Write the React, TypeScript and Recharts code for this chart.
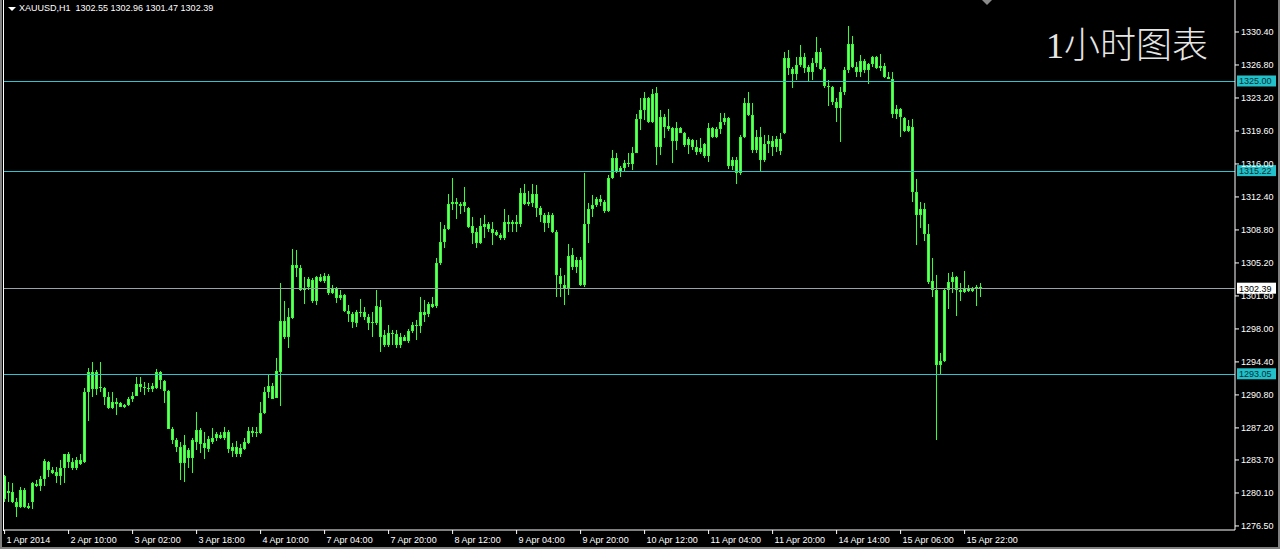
import React from 'react';
import { ComposedChart, Bar, XAxis, YAxis, ReferenceLine } from 'recharts';

// XAUUSD H1 candles, [open, high, low, close]
const BARS_APR01_03 = [
  [1281.9, 1282.1, 1279.1, 1279.4], [1280.1, 1281.3, 1279.1, 1280.3], [1280.2, 1281.2, 1279.0, 1279.1],
  [1279.1, 1279.6, 1277.5, 1278.6], [1278.6, 1280.8, 1278.5, 1280.4], [1280.4, 1280.6, 1278.4, 1278.6],
  [1278.7, 1279.0, 1278.3, 1278.5], [1279.1, 1281.3, 1278.3, 1281.2], [1281.1, 1281.5, 1280.7, 1280.9],
  [1280.9, 1282.0, 1280.4, 1281.6], [1281.6, 1283.8, 1280.8, 1283.6], [1283.5, 1283.6, 1281.9, 1282.6],
  [1282.6, 1282.9, 1282.1, 1282.3], [1282.4, 1282.9, 1281.2, 1281.9], [1281.9, 1283.7, 1281.0, 1282.8],
  [1282.8, 1284.4, 1281.2, 1284.3], [1284.3, 1284.6, 1282.9, 1283.5], [1283.5, 1283.9, 1282.6, 1282.8],
  [1282.8, 1284.0, 1282.6, 1283.7], [1283.7, 1284.4, 1283.2, 1283.3], [1283.5, 1291.6, 1283.4, 1291.1],
  [1291.1, 1293.7, 1287.9, 1293.3], [1293.3, 1294.4, 1290.6, 1291.4], [1291.4, 1293.5, 1290.8, 1293.3],
  [1291.7, 1294.4, 1291.1, 1291.5], [1291.5, 1291.7, 1289.7, 1290.6], [1290.6, 1291.1, 1289.2, 1289.4],
  [1289.4, 1291.1, 1289.2, 1290.0], [1290.0, 1290.5, 1288.6, 1289.8], [1289.9, 1290.0, 1289.4, 1289.5],
  [1289.5, 1289.8, 1289.4, 1289.7], [1289.7, 1290.6, 1289.6, 1290.4], [1290.3, 1291.1, 1290.0, 1290.7],
  [1290.7, 1292.7, 1290.6, 1292.0], [1292.0, 1292.7, 1291.1, 1291.7], [1291.7, 1292.2, 1290.8, 1291.6],
  [1291.6, 1292.1, 1291.1, 1291.4], [1291.4, 1292.1, 1291.1, 1291.8], [1291.6, 1293.6, 1291.4, 1293.3],
  [1293.3, 1293.4, 1291.4, 1292.4], [1292.3, 1292.4, 1289.9, 1291.2], [1291.2, 1291.3, 1287.0, 1287.1],
  [1287.1, 1287.3, 1285.4, 1285.9], [1285.9, 1286.1, 1284.6, 1285.1], [1285.1, 1285.7, 1281.5, 1283.4],
  [1283.4, 1286.4, 1281.3, 1285.3], [1284.8, 1285.0, 1282.8, 1283.9], [1283.9, 1286.1, 1282.3, 1285.9],
];

const BARS_APR03_07 = [
  [1285.7, 1288.9, 1284.8, 1287.0], [1287.0, 1287.2, 1284.5, 1285.4], [1285.5, 1286.8, 1283.9, 1285.0],
  [1284.9, 1286.3, 1284.6, 1286.0], [1285.7, 1287.2, 1285.4, 1286.1], [1286.1, 1286.7, 1285.7, 1286.5],
  [1286.4, 1286.7, 1285.9, 1286.1], [1286.1, 1287.3, 1285.9, 1286.8], [1286.8, 1287.0, 1284.5, 1284.9],
  [1285.1, 1285.5, 1284.0, 1284.7], [1284.3, 1285.8, 1284.0, 1285.1], [1285.0, 1285.4, 1284.0, 1284.4],
  [1284.9, 1286.1, 1284.8, 1285.7], [1285.6, 1287.3, 1285.4, 1286.9], [1286.9, 1287.3, 1286.2, 1286.6],
  [1286.6, 1287.3, 1286.2, 1286.7], [1286.6, 1290.0, 1286.5, 1288.8], [1288.8, 1291.7, 1288.7, 1291.1],
  [1291.1, 1293.0, 1290.5, 1291.8], [1291.8, 1292.1, 1290.3, 1290.4], [1290.5, 1294.8, 1290.4, 1293.4],
  [1293.3, 1303.0, 1289.6, 1298.9], [1298.9, 1301.0, 1296.8, 1297.1], [1297.1, 1300.3, 1295.9, 1299.3],
  [1299.2, 1306.7, 1299.1, 1305.0], [1305.0, 1306.6, 1303.7, 1304.7], [1304.7, 1305.0, 1302.2, 1302.3],
  [1302.3, 1303.7, 1300.8, 1302.5], [1302.6, 1303.7, 1302.3, 1303.4], [1303.3, 1303.6, 1300.9, 1301.1],
  [1301.1, 1303.8, 1300.6, 1303.7], [1303.7, 1304.0, 1303.1, 1303.2], [1303.2, 1304.1, 1303.0, 1303.8],
  [1303.8, 1304.0, 1301.7, 1301.9], [1301.9, 1302.8, 1301.8, 1302.5], [1302.5, 1302.6, 1300.8, 1301.4],
  [1301.4, 1302.3, 1301.2, 1301.7], [1301.7, 1301.8, 1299.8, 1300.0], [1300.0, 1300.6, 1298.7, 1299.6],
  [1299.6, 1299.9, 1298.1, 1298.8], [1298.7, 1300.1, 1298.2, 1299.9], [1299.9, 1301.3, 1299.3, 1299.8],
  [1299.8, 1300.4, 1299.0, 1299.3], [1299.3, 1299.6, 1297.9, 1298.7], [1298.7, 1299.8, 1297.1, 1298.8],
  [1298.7, 1302.2, 1298.4, 1300.5], [1300.4, 1301.2, 1295.5, 1297.1], [1297.3, 1297.9, 1296.0, 1296.3],
  [1296.3, 1298.4, 1296.0, 1297.6], [1297.6, 1297.9, 1296.3, 1297.4],
];

const BARS_APR08_09 = [
  [1297.4, 1297.9, 1295.9, 1296.2], [1296.2, 1297.6, 1296.0, 1297.1], [1297.1, 1297.3, 1296.6, 1296.7],
  [1296.7, 1298.0, 1296.5, 1297.8], [1297.8, 1298.8, 1297.6, 1298.4], [1298.4, 1299.0, 1296.8, 1298.3],
  [1298.3, 1301.5, 1297.6, 1299.9], [1299.9, 1301.2, 1298.8, 1299.5], [1299.6, 1300.9, 1299.3, 1300.7],
  [1300.7, 1301.5, 1300.3, 1300.4], [1300.5, 1305.7, 1300.2, 1305.2], [1305.2, 1309.7, 1305.0, 1307.5],
  [1307.5, 1309.3, 1306.8, 1308.9], [1308.9, 1312.7, 1308.8, 1311.6], [1311.6, 1314.5, 1311.0, 1311.8],
  [1311.8, 1312.3, 1310.0, 1311.6], [1311.6, 1311.9, 1310.6, 1311.4], [1311.4, 1313.5, 1310.8, 1311.8],
  [1311.2, 1311.3, 1309.0, 1309.1], [1309.2, 1310.2, 1307.2, 1308.5], [1308.6, 1309.0, 1306.8, 1307.4],
  [1307.4, 1310.1, 1307.3, 1309.2], [1309.1, 1310.4, 1307.9, 1309.4], [1309.4, 1309.7, 1308.6, 1308.9],
  [1308.9, 1309.7, 1307.2, 1308.5], [1308.6, 1308.8, 1308.1, 1308.3], [1308.3, 1308.5, 1307.7, 1307.9],
  [1307.9, 1311.1, 1307.7, 1309.7], [1309.7, 1310.4, 1308.5, 1309.4], [1309.4, 1309.9, 1308.6, 1309.7],
  [1309.7, 1310.4, 1308.5, 1309.5], [1309.5, 1313.4, 1309.1, 1312.8], [1312.8, 1313.8, 1311.5, 1311.6],
  [1311.6, 1313.0, 1311.4, 1311.8], [1311.7, 1313.8, 1311.3, 1312.7], [1312.7, 1313.7, 1310.2, 1311.2],
  [1311.2, 1311.4, 1309.7, 1310.4], [1310.4, 1310.7, 1308.6, 1309.6], [1309.6, 1310.8, 1309.1, 1310.4],
  [1310.4, 1310.7, 1308.5, 1308.6], [1308.6, 1308.8, 1301.5, 1303.9], [1303.8, 1304.7, 1301.5, 1302.9],
  [1302.8, 1303.9, 1300.6, 1302.4], [1302.5, 1307.3, 1301.7, 1306.0], [1306.1, 1306.8, 1304.4, 1304.8],
  [1304.8, 1305.9, 1304.2, 1305.5], [1305.5, 1305.9, 1302.7, 1302.8], [1302.8, 1315.0, 1302.6, 1309.5],
];

const BARS_APR10_11 = [
  [1309.5, 1311.7, 1307.3, 1311.1], [1311.1, 1312.6, 1310.2, 1311.5], [1311.5, 1312.4, 1311.3, 1312.2],
  [1312.2, 1312.6, 1311.4, 1311.8], [1311.8, 1312.1, 1310.7, 1310.9], [1310.9, 1314.8, 1310.8, 1314.5],
  [1314.5, 1317.5, 1314.3, 1316.7], [1316.7, 1317.2, 1315.0, 1315.1], [1315.1, 1315.8, 1314.6, 1315.6],
  [1315.6, 1316.4, 1315.1, 1316.1], [1316.1, 1317.2, 1315.7, 1316.0], [1316.0, 1317.9, 1315.4, 1317.2],
  [1317.2, 1321.4, 1317.1, 1320.9], [1320.9, 1323.2, 1319.7, 1321.9], [1321.9, 1323.9, 1320.8, 1323.2],
  [1323.2, 1323.3, 1320.5, 1320.6], [1320.6, 1324.2, 1320.5, 1323.6], [1323.7, 1324.4, 1315.9, 1317.9],
  [1317.9, 1321.9, 1317.0, 1321.1], [1321.1, 1321.5, 1318.9, 1320.0], [1320.1, 1322.0, 1319.6, 1319.8],
  [1319.9, 1320.0, 1316.1, 1318.5], [1318.5, 1320.6, 1317.5, 1319.9], [1319.9, 1320.0, 1319.3, 1319.4],
  [1319.4, 1319.5, 1317.9, 1318.1], [1318.1, 1318.9, 1317.0, 1318.7], [1318.6, 1318.7, 1317.5, 1317.9],
  [1317.9, 1318.6, 1317.0, 1317.3], [1317.3, 1318.8, 1317.0, 1317.7], [1318.2, 1318.3, 1316.7, 1316.9],
  [1316.9, 1320.5, 1316.2, 1319.9], [1319.9, 1320.0, 1318.8, 1318.9], [1318.9, 1320.0, 1318.8, 1319.8],
  [1319.8, 1321.6, 1319.3, 1320.6], [1320.6, 1321.6, 1320.3, 1321.0], [1321.0, 1321.1, 1315.4, 1315.8],
  [1315.8, 1316.8, 1315.4, 1316.4], [1316.4, 1316.8, 1313.9, 1315.0], [1315.0, 1319.2, 1314.8, 1318.9],
  [1318.9, 1323.2, 1318.8, 1322.7], [1322.7, 1323.8, 1321.2, 1321.3], [1321.3, 1322.7, 1317.2, 1317.5],
  [1317.5, 1319.7, 1317.2, 1318.9], [1318.9, 1320.0, 1315.1, 1316.4], [1316.4, 1319.2, 1316.2, 1318.2],
  [1318.2, 1319.2, 1317.2, 1318.5], [1318.5, 1319.0, 1316.8, 1317.9], [1317.9, 1319.0, 1317.2, 1318.7],
  [1318.7, 1319.4, 1317.0, 1317.4],
];

const BARS_APR11_16 = [
  [1319.4, 1328.2, 1319.2, 1327.6], [1327.6, 1328.4, 1325.7, 1326.5], [1326.4, 1326.6, 1324.3, 1325.8],
  [1325.8, 1327.7, 1325.2, 1326.8], [1326.8, 1329.0, 1326.6, 1327.7], [1327.7, 1328.1, 1325.9, 1326.5],
  [1326.6, 1326.8, 1325.0, 1326.0], [1326.0, 1327.6, 1325.2, 1327.0], [1327.0, 1329.9, 1326.6, 1328.2],
  [1328.2, 1328.7, 1326.3, 1326.4], [1326.4, 1326.6, 1324.3, 1324.5], [1324.5, 1325.2, 1322.4, 1324.4],
  [1324.4, 1324.5, 1322.4, 1322.8], [1322.8, 1323.2, 1320.6, 1322.1], [1322.1, 1324.4, 1318.4, 1323.9],
  [1323.8, 1326.6, 1323.5, 1326.3], [1326.3, 1331.1, 1326.0, 1329.1], [1329.1, 1330.0, 1326.5, 1326.6],
  [1326.6, 1327.1, 1325.5, 1326.0], [1326.0, 1327.9, 1325.5, 1327.2], [1327.2, 1327.5, 1326.0, 1326.2],
  [1326.2, 1327.0, 1324.7, 1326.9], [1326.9, 1327.8, 1326.6, 1327.7], [1327.7, 1327.8, 1326.4, 1326.5],
  [1326.5, 1328.0, 1326.1, 1326.7], [1326.7, 1327.0, 1325.4, 1325.5], [1325.5, 1326.0, 1325.2, 1325.3],
  [1325.3, 1326.0, 1321.0, 1321.5], [1321.5, 1322.4, 1320.9, 1322.0], [1322.0, 1322.1, 1318.9, 1321.1],
  [1321.0, 1321.1, 1319.5, 1319.6], [1319.6, 1320.8, 1319.5, 1320.1], [1320.0, 1320.9, 1311.8, 1312.9],
  [1312.9, 1314.4, 1307.2, 1310.4], [1310.4, 1311.9, 1309.1, 1311.1], [1311.1, 1311.7, 1307.6, 1308.4],
  [1308.4, 1309.5, 1303.0, 1303.1], [1303.2, 1305.7, 1301.4, 1302.3], [1302.3, 1303.9, 1285.9, 1294.1],
  [1294.1, 1295.4, 1293.0, 1294.5], [1294.5, 1302.5, 1294.4, 1302.3], [1302.3, 1304.1, 1300.2, 1303.1],
  [1303.1, 1304.2, 1301.9, 1303.7], [1303.7, 1303.8, 1299.4, 1302.3], [1302.3, 1303.0, 1301.0, 1302.0],
  [1302.0, 1304.3, 1301.9, 1302.5], [1302.5, 1302.8, 1302.0, 1302.1], [1302.1, 1302.6, 1302.0, 1302.4],
  [1302.4, 1302.8, 1300.5, 1302.6], [1302.55, 1302.96, 1301.47, 1302.39],
];

const TIME_TICKS = [0, 16, 32, 48, 64, 80, 96, 112, 128, 144, 160, 176, 192, 208, 224, 240];
const TIME_LABELS = [
  '1 Apr 2014', '2 Apr 10:00', '3 Apr 02:00', '3 Apr 18:00', '4 Apr 10:00', '7 Apr 04:00',
  '7 Apr 20:00', '8 Apr 12:00', '9 Apr 04:00', '9 Apr 20:00', '10 Apr 12:00', '11 Apr 04:00',
  '11 Apr 20:00', '14 Apr 14:00', '15 Apr 06:00', '15 Apr 22:00',
];
const PRICE_TICKS = [
  1330.4, 1326.8, 1323.2, 1319.6, 1316.0, 1312.4, 1308.8, 1305.2,
  1301.6, 1298.0, 1294.4, 1290.8, 1287.2, 1283.7, 1280.1, 1276.5,
];
const LEVELS = [1325.0, 1315.22, 1293.05];
const BID = 1302.39;
const LAST = BARS_APR11_16[BARS_APR11_16.length - 1];

const candles = [...BARS_APR01_03, ...BARS_APR03_07, ...BARS_APR08_09, ...BARS_APR10_11, ...BARS_APR11_16]
  .map(([o, h, l, c], i) => ({ i, o, h, l, c, range: [l, h] }));

const GREEN = '#33ff33';
const CYAN = '#2ec3cf';

const Candle = (props: any) => {
  const { x, y, width, height, payload } = props;
  if (x == null || !payload) return null;
  const top = Math.min(y, y + height);
  const span = Math.abs(height);
  const k = span / (payload.h - payload.l || 1);
  const bTop = top + (payload.h - Math.max(payload.o, payload.c)) * k;
  const bBot = top + (payload.h - Math.min(payload.o, payload.c)) * k;
  const cx = Math.round(x + width / 2 - 0.5);
  const by = Math.round(bTop);
  const bh = Math.max(1, Math.round(bBot) - by);
  return (
    <g shapeRendering="crispEdges">
      <rect x={cx} y={Math.round(top)} width={1} height={Math.max(1, Math.round(span))} fill={GREEN} />
      <rect x={cx - 1} y={by} width={3} height={bh} fill={GREEN} />
      {bh > 2 && <rect x={cx} y={by + 1} width={1} height={bh - 2} fill="#70ff70" />}
    </g>
  );
};

const TimeTick = (props: any) => {
  const { x, y, payload } = props;
  const label = TIME_LABELS[TIME_TICKS.indexOf(payload.value)];
  return (
    <text x={x + 2} y={y} dy="0.71em" fill="#fff" fontSize={9} textAnchor="start">
      {label}
    </text>
  );
};

const priceBox = (value: number, fill: string, color: string) => (props: any) => {
  const { viewBox } = props;
  if (!viewBox) return null;
  const bx = viewBox.x + viewBox.width + 2;
  return (
    <g>
      <rect x={bx} y={viewBox.y - 6} width={39} height={11} fill={fill} />
      <text x={bx + 2} y={viewBox.y} dy="0.33em" fontSize={9} fill={color}>
        {value.toFixed(2)}
      </text>
    </g>
  );
};

export default function App() {
  return (
    <div
      style={{
        position: 'fixed', left: 0, top: 0, width: 1280, height: 549, background: '#000',
        overflow: 'hidden', fontFamily: '"Liberation Sans", Arial, sans-serif',
      }}
    >
      <ComposedChart
        width={1280}
        height={549}
        data={candles}
        margin={{ top: 0, right: 0, bottom: 0, left: 3 }}
        style={{ fontFamily: '"Liberation Sans", Arial, sans-serif' }}
      >
        <XAxis
          dataKey="i"
          type="number"
          domain={[-0.4, 307.6]}
          allowDataOverflow
          ticks={TIME_TICKS}
          interval={0}
          height={19}
          stroke="#fff"
          tickSize={4}
          tickMargin={3}
          tick={<TimeTick />}
        />
        <YAxis
          orientation="right"
          type="number"
          domain={[1276.06, 1333.89]}
          allowDataOverflow
          ticks={PRICE_TICKS}
          interval={0}
          width={45}
          stroke="#fff"
          tickSize={4}
          tickMargin={2}
          tick={{ fill: '#fff', fontSize: 9 }}
          tickFormatter={(v: number) => v.toFixed(2)}
        />
        {LEVELS.map((v) => (
          <ReferenceLine
            key={v}
            y={v}
            stroke={CYAN}
            strokeWidth={1}
            shapeRendering="crispEdges"
            label={priceBox(v, '#22c0c8', '#00323a')}
          />
        ))}
        <ReferenceLine
          y={BID}
          stroke="#9aa3a6"
          strokeWidth={1}
          shapeRendering="crispEdges"
          label={priceBox(BID, '#fff', '#000')}
        />
        <Bar dataKey="range" barSize={3} shape={<Candle />} isAnimationActive={false} />
      </ComposedChart>

      {/* window frame bits */}
      <div style={{ position: 'absolute', left: 3, top: 0, width: 1, height: 531, background: '#fff' }} />
      <div style={{ position: 'absolute', left: 0, top: 0, width: 2, height: 549, background: '#808080' }} />
      <div style={{ position: 'absolute', left: 0, top: 547, width: 1280, height: 2, background: '#808080' }} />
      <div style={{ position: 'absolute', left: 1278, top: 0, width: 2, height: 549, background: '#808080' }} />
      <div
        style={{
          position: 'absolute', left: 982, top: 0, width: 0, height: 0,
          borderLeft: '5px solid transparent', borderRight: '5px solid transparent', borderTop: '5px solid #8a8a8a',
        }}
      />

      {/* header */}
      <div
        style={{
          position: 'absolute', left: 8, top: 7, width: 0, height: 0,
          borderLeft: '4px solid transparent', borderRight: '4px solid transparent', borderTop: '4px solid #fff',
        }}
      />
      <div style={{ position: 'absolute', left: 19, top: 3, fontSize: 9, lineHeight: '11px', color: '#fff', whiteSpace: 'pre' }}>
        {`XAUUSD,H1  ${LAST.map((v) => v.toFixed(2)).join(' ')}`}
      </div>

      <div
        style={{
          position: 'absolute', left: 1046, top: 24, fontSize: 36, lineHeight: '44px', color: '#e6e6e6',
          fontFamily: '"Liberation Serif", "Noto Sans CJK SC", serif', fontWeight: 300, whiteSpace: 'nowrap',
        }}
      >
        1小时图表
      </div>
    </div>
  );
}
